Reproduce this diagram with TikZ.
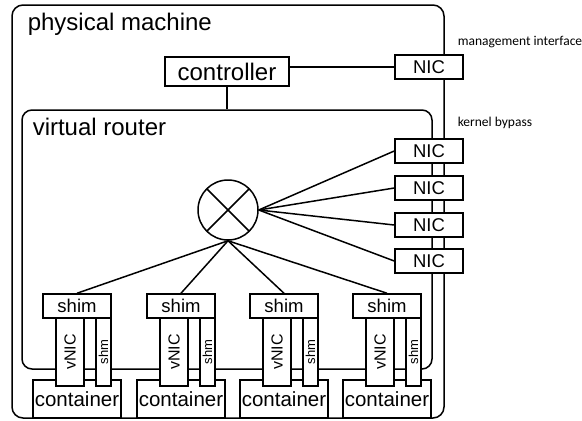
\documentclass[tikz,border=0pt]{standalone}
\usepackage{fontspec}
\setmainfont{Liberation Sans}
\newfontfamily\smallfont{Carlito}
\usepackage{tikz}

\begin{document}
\begin{tikzpicture}[x=1pt,y=-1pt,line width=1.5pt,
		frame_style/.style={draw=black,rounded corners=11pt,minimum width=#1},
		box_style/.style={rectangle,draw=black,fill=white,inner sep=0pt,font=\fontsize{18.5}{20}\selectfont},
		bar_style/.style={rectangle,draw=black,fill=white,inner sep=0pt,rotate=90,minimum width=68pt},
		label_style/.style={inner sep=0pt,font=\fontsize{24}{28}\selectfont},
		note_style/.style={inner sep=0pt,anchor=west,font=\smallfont\fontsize{13.5}{16}\selectfont},
		edge_style/.style={draw=black}]

		\useasboundingbox (0,0) rectangle (582,421);

		% frames
		\node[frame_style=432pt,minimum height=413pt] (pm) at (228,211.5) {};
		\node[frame_style=410pt,minimum height=259pt,rounded corners=10pt] (vr) at (227,239.5) {};
		\node[label_style,anchor=base west] (pmlabel) at (27,30) {physical machine};
		\node[label_style,anchor=base west] (vrlabel) at (32,135) {virtual router};

		% controller and NICs
		\node[box_style,minimum width=124pt,minimum height=29pt,font=\fontsize{24}{28}\selectfont] (ctrl) at (227,71.5) {controller};
		\node[box_style,minimum width=68pt,minimum height=24pt] (nic0) at (429,67) {NIC};
		\node[box_style,minimum width=68pt,minimum height=24pt] (nic1) at (429,151) {NIC};
		\node[box_style,minimum width=68pt,minimum height=24pt] (nic2) at (429,188) {NIC};
		\node[box_style,minimum width=68pt,minimum height=24pt] (nic3) at (429,225) {NIC};
		\node[box_style,minimum width=68pt,minimum height=24pt] (nic4) at (429,261) {NIC};
		\node[note_style] (mgmt) at (457,42) {management interface};
		\node[note_style] (bypass) at (457,123) {kernel bypass};

		% switch
		\node[circle,draw=black,minimum size=60pt,inner sep=0pt,
			path picture={\draw (path picture bounding box.north west) -- (path picture bounding box.south east)
				(path picture bounding box.south west) -- (path picture bounding box.north east);}] (sw) at (228,210) {};

		% containers
		\node[box_style,minimum width=88pt,minimum height=38pt,font=\fontsize{20.5}{24}\selectfont] (ct1) at (77,399) {container};
		\node[box_style,minimum width=88pt,minimum height=38pt,font=\fontsize{20.5}{24}\selectfont] (ct2) at (181,399) {container};
		\node[box_style,minimum width=88pt,minimum height=38pt,font=\fontsize{20.5}{24}\selectfont] (ct3) at (284,399) {container};
		\node[box_style,minimum width=88pt,minimum height=38pt,font=\fontsize{20.5}{24}\selectfont] (ct4) at (387,399) {container};

		% vNIC and shm
		\node[bar_style,minimum height=28pt,font=\fontsize{16}{18}\selectfont] (vnic1) at (70,352) {vNIC};
		\node[bar_style,minimum height=28pt,font=\fontsize{16}{18}\selectfont] (vnic2) at (174,352) {vNIC};
		\node[bar_style,minimum height=28pt,font=\fontsize{16}{18}\selectfont] (vnic3) at (277,352) {vNIC};
		\node[bar_style,minimum height=28pt,font=\fontsize{16}{18}\selectfont] (vnic4) at (380,352) {vNIC};
		\node[bar_style,minimum height=15pt,font=\fontsize{13}{14}\selectfont] (shm1) at (103.5,352) {shm};
		\node[bar_style,minimum height=15pt,font=\fontsize{13}{14}\selectfont] (shm2) at (207.5,352) {shm};
		\node[bar_style,minimum height=15pt,font=\fontsize{13}{14}\selectfont] (shm3) at (310.5,352) {shm};
		\node[bar_style,minimum height=15pt,font=\fontsize{13}{14}\selectfont] (shm4) at (413.5,352) {shm};

		% shims
		\node[box_style,minimum width=68pt,minimum height=24pt] (shim1) at (77,306) {shim};
		\node[box_style,minimum width=68pt,minimum height=24pt] (shim2) at (181,306) {shim};
		\node[box_style,minimum width=68pt,minimum height=24pt] (shim3) at (284,306) {shim};
		\node[box_style,minimum width=68pt,minimum height=24pt] (shim4) at (387,306) {shim};

		\draw[edge_style] (ctrl.south) -- (vr.north);
		\draw[edge_style] (ctrl.east |- nic0.west) -- (nic0.west);
		\draw[edge_style] (sw.east) -- (nic1.west);
		\draw[edge_style] (sw.east) -- (nic2.west);
		\draw[edge_style] (sw.east) -- (nic3.west);
		\draw[edge_style] (sw.east) -- (nic4.west);
		\draw[edge_style] (sw.south) -- (shim1.north);
		\draw[edge_style] (sw.south) -- (shim2.north);
		\draw[edge_style] (sw.south) -- (shim3.north);
		\draw[edge_style] (sw.south) -- (shim4.north);

\end{tikzpicture}
\end{document}
